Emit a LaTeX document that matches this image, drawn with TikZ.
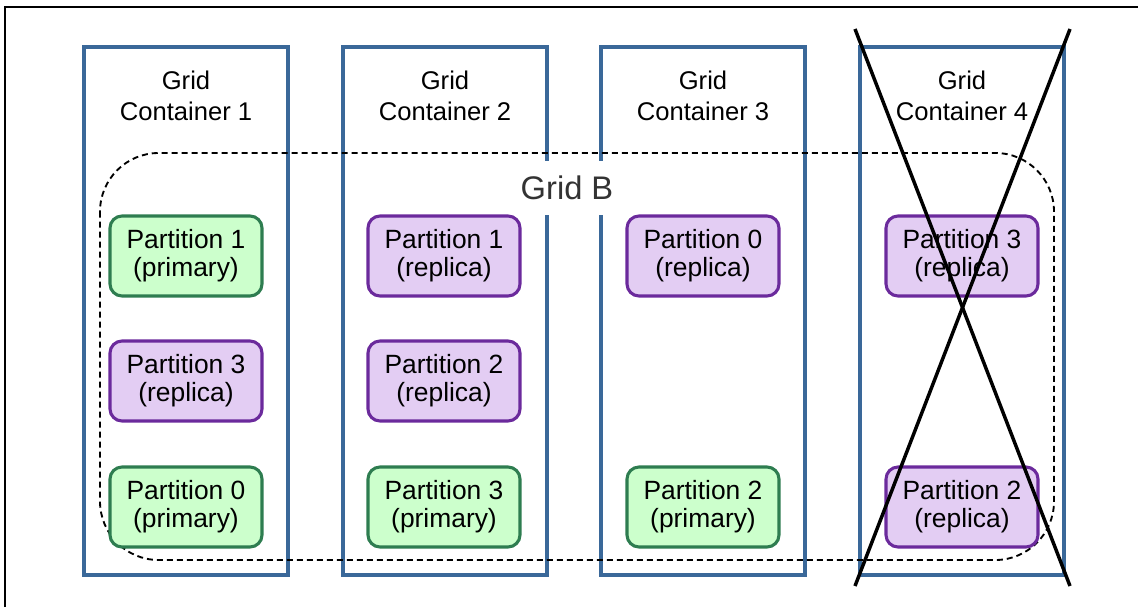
\documentclass[tikz,border=0pt]{standalone}
\usepackage{fontspec}
\setmainfont{Liberation Sans}
\definecolor{contblue}{HTML}{3A6899}
\definecolor{prifill}{HTML}{CCFFCC}
\definecolor{pridraw}{HTML}{2E7D50}
\definecolor{repfill}{HTML}{E3CDF3}
\definecolor{repdraw}{HTML}{6B2A9C}
\definecolor{gbtext}{HTML}{333333}
\tikzset{
  container/.style={draw=contblue, line width=2.3pt, minimum width=153pt, minimum height=396pt, inner sep=0pt},
  ctitle/.style={font=\fontsize{19.2}{23.5}\selectfont, align=center, text=black},
  part/.style={rounded corners=9pt, line width=2.3pt, minimum width=114pt, minimum height=60pt, align=center, font=\fontsize{19.8}{21}\selectfont, inner sep=0pt},
  primary/.style={part, draw=pridraw, fill=prifill},
  replica/.style={part, draw=repdraw, fill=repfill},
  gridb/.style={draw=black, dashed, dash pattern=on 4.5pt off 3pt, line width=1.4pt, rounded corners=44pt},
  cross/.style={line width=2.6pt, black},
}
\begin{document}
\begin{tikzpicture}[x=0.75pt, y=-0.75pt]
\useasboundingbox (0,0) rectangle (1138,607);
% frame
\coordinate (fa) at (5,607);
\coordinate (fb) at (5,7);
\coordinate (fc) at (1138,7);
\draw[line width=1.1pt] (fa) -- (fb) -- (fc);
% containers
\foreach \i/\x in {1/186,2/445,3/703,4/962}{
  \node[container] (c\i) at (\x,311) {};
  \node[ctitle, anchor=north] (t\i) at (\x,66) {Grid\\Container \i};
}
% grid B dashed region
\coordinate (ga) at (100,153);
\coordinate (gb) at (1054,560);
\draw[gridb] (ga) rectangle (gb);
\node[fill=white, inner xsep=4pt, minimum height=41pt, text=gbtext, font=\fontsize{24.5}{28}\selectfont] (gridB) at (567,188) {Grid B};
% partitions
\node[primary] (p11) at (186,256) {Partition 1\\(primary)};
\node[replica] (p12) at (186,381) {Partition 3\\(replica)};
\node[primary] (p13) at (186,507) {Partition 0\\(primary)};
\node[replica] (p21) at (444,256) {Partition 1\\(replica)};
\node[replica] (p22) at (444,381) {Partition 2\\(replica)};
\node[primary] (p23) at (444,507) {Partition 3\\(primary)};
\node[replica] (p31) at (703,256) {Partition 0\\(replica)};
\node[primary] (p33) at (703,507) {Partition 2\\(primary)};
\node[replica] (p41) at (962,256) {Partition 3\\(replica)};
\node[replica] (p43) at (962,507) {Partition 2\\(replica)};
% cross
\coordinate (xa) at (855,29);
\coordinate (xb) at (1070,586);
\coordinate (xc) at (1070,29);
\coordinate (xd) at (855,586);
\draw[cross] (xa) -- (xb);
\draw[cross] (xc) -- (xd);
\end{tikzpicture}
\end{document}
